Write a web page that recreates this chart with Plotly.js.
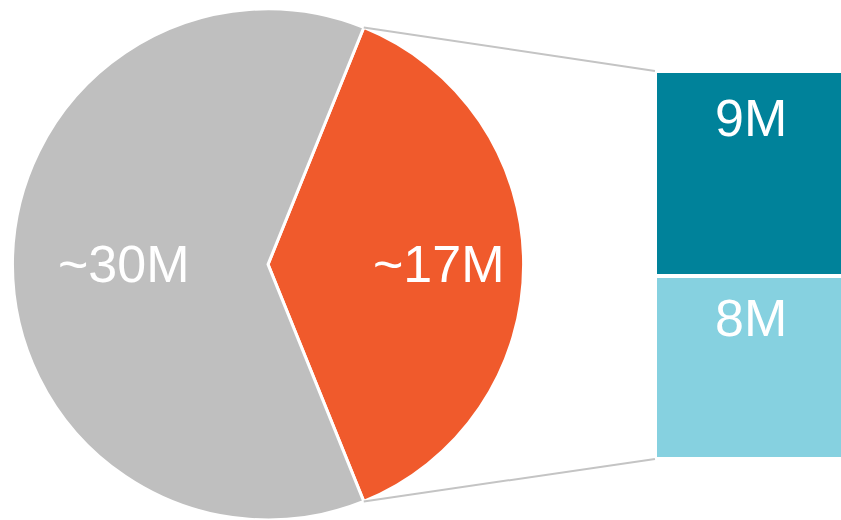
<!DOCTYPE html>
<html>
<head>
<meta charset="utf-8">
<script src="https://cdn.plot.ly/plotly-3.0.1.min.js"></script>
<style>html,body{margin:0;padding:0;background:#fff;}#chart{width:841px;height:520px;}</style>
</head>
<body>
<div id="chart"></div>
<script>
// ---- data ----
const pieLabels = ['Segment A', 'Segment B'];
const pieValues = [17, 28];
const pieText = ['~17M', '~30M'];
const pieColors = ['#f05a2c', '#bfbfbf'];

const barNames = ['8M segment', '9M segment'];
const barValues = [8, 9];
const barText = ['8M', '9M'];
const barColors = ['#86d1e0', '#00829a'];

// ---- layout geometry ----
const W = 841, H = 520;
const pieDomX = [0.0143, 0.6231];
const pieDomY = [0, 0.983];
const barDomX = [0.7788, 1];
const barDomY = [0.1173, 0.8635];
const pieLabelRadius = [0.67, 0.565];   // fraction of radius for each slice label
const total = pieValues.reduce((a, b) => a + b, 0);
const orangeSpan = 360 * pieValues[0] / total;
const rotation = 90 - orangeSpan / 2;

const font = 'Liberation Sans, Arial, Helvetica, sans-serif';
const fsize = 52;

const traces = [{
  type: 'pie',
  labels: pieLabels,
  values: pieValues,
  textinfo: 'none',
  marker: {colors: pieColors, line: {color: '#ffffff', width: 3}},
  sort: false,
  direction: 'clockwise',
  rotation: rotation,
  domain: {x: pieDomX, y: pieDomY},
  showlegend: false,
  hoverinfo: 'none'
}];

const barStackTop = [];
let acc = 0;
barValues.forEach((v, i) => {
  traces.push({
    type: 'bar',
    x: [0],
    y: [v],
    name: barNames[i],
    marker: {color: barColors[i], line: {color: '#ffffff', width: 4}},
    width: 1,
    xaxis: 'x',
    yaxis: 'y',
    showlegend: false,
    hoverinfo: 'none'
  });
  acc += v;
  barStackTop.push(acc);
});
const barTotal = acc;

const annotations = barValues.map((v, i) => ({
  xref: 'x', yref: 'y',
  x: 0, y: barStackTop[i] - 0.23 * v,
  text: barText[i],
  showarrow: false,
  xanchor: 'center', yanchor: 'middle',
  font: {family: font, size: fsize, color: '#ffffff'}
}));

// pie geometry
const pieWpx = (pieDomX[1] - pieDomX[0]) * W;
const pieHpx = (pieDomY[1] - pieDomY[0]) * H;
const r = Math.min(pieWpx, pieHpx) / 2;
const cx = (pieDomX[0] + pieDomX[1]) / 2;
const cy = (pieDomY[0] + pieDomY[1]) / 2;
const pt = (a, rr) => [cx + rr * Math.sin(a) / W, cy + rr * Math.cos(a) / H];

// pie labels at slice mid-angles
let start = rotation;
pieValues.forEach((v, i) => {
  const span = 360 * v / total;
  const mid = (start + span / 2) * Math.PI / 180;
  const p = pt(mid, r * pieLabelRadius[i]);
  annotations.push({
    xref: 'paper', yref: 'paper', x: p[0], y: p[1],
    text: pieText[i], showarrow: false,
    xanchor: 'center', yanchor: 'middle',
    font: {family: font, size: fsize, color: '#ffffff'}
  });
  start += span;
});

// connector lines from the orange slice edges to the bar corners
const a0 = rotation * Math.PI / 180;
const a1 = (rotation + orangeSpan) * Math.PI / 180;
const p0 = pt(a0, r), p1 = pt(a1, r);
const shapes = [
  {type: 'line', xref: 'paper', yref: 'paper', x0: p0[0], y0: p0[1], x1: barDomX[0], y1: barDomY[1],
   line: {color: '#c4c4c4', width: 2}},
  {type: 'line', xref: 'paper', yref: 'paper', x0: p1[0], y0: p1[1], x1: barDomX[0], y1: barDomY[0],
   line: {color: '#c4c4c4', width: 2}}
];

const layout = {
  width: W, height: H,
  margin: {l: 0, r: 0, t: 0, b: 0},
  paper_bgcolor: '#ffffff',
  plot_bgcolor: 'rgba(0,0,0,0)',
  barmode: 'stack',
  bargap: 0,
  xaxis: {domain: barDomX, range: [-0.5, 0.47], visible: false, fixedrange: true},
  yaxis: {domain: barDomY, range: [0, barTotal], visible: false, fixedrange: true},
  annotations: annotations,
  shapes: shapes,
  font: {family: font}
};

Plotly.newPlot('chart', traces, layout, {displayModeBar: false, staticPlot: true});
</script>
</body>
</html>
